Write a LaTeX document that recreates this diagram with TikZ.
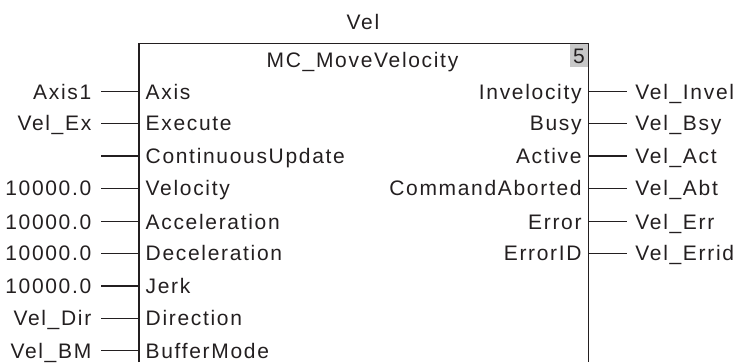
\documentclass[tikz,border=0pt]{standalone}
\usepackage{fontspec}
\setmainfont{Liberation Sans}[LetterSpace=8]
\usepackage{tikz}
\definecolor{fbink}{HTML}{231F20}
\definecolor{fbgray}{HTML}{C8C8C8}

\begin{document}
\begin{tikzpicture}[x=1pt, y=1pt, fbink, line width=1.4pt,
  every node/.style={inner sep=0pt, text height=15pt, text depth=0pt,
    font=\fontsize{21}{24}\selectfont, text=fbink},
  varin/.style={anchor=east, inner xsep=9pt},
  pinin/.style={anchor=west, inner xsep=6pt},
  pinout/.style={anchor=east, inner xsep=6pt},
  varout/.style={anchor=west, inner xsep=8pt}]
\useasboundingbox (0,0) rectangle (738,-362);

% Function block body
\fill[fbgray] (570,-43.3) rectangle (588.3,-67);
\draw (139,-362) -- (139,-43.3) -- (588.3,-43.3) -- (588.3,-362);
\node (inst) at (363,-22) {Vel};
\node (fbname) at (362.5,-60) {MC\_MoveVelocity};
\node (fbno) at (579,-55.5) {5};

% Input pins
\node[pinin] (pAxis) at (139,-91.7) {Axis};
\node[pinin] (pExe) at (139,-123.3) {Execute};
\node[pinin] (pCont) at (139,-156) {ContinuousUpdate};
\node[pinin] (pVel) at (139,-188.3) {Velocity};
\node[pinin] (pAcc) at (139,-221.7) {Acceleration};
\node[pinin] (pDec) at (139,-253.3) {Deceleration};
\node[pinin] (pJerk) at (139,-286) {Jerk};
\node[pinin] (pDir) at (139,-318.3) {Direction};
\node[pinin] (pBuf) at (139,-350.7) {BufferMode};

% Output pins
\node[pinout] (pInv) at (588.3,-91.7) {Invelocity};
\node[pinout] (pBsy) at (588.3,-123.3) {Busy};
\node[pinout] (pAct) at (588.3,-156) {Active};
\node[pinout] (pAbt) at (588.3,-188.3) {CommandAborted};
\node[pinout] (pErr) at (588.3,-221.7) {Error};
\node[pinout] (pErrid) at (588.3,-253.3) {ErrorID};

% Input variables
\node[varin] (vAxis) at (101,-91.7) {Axis1};
\node[varin] (vExe) at (101,-123.3) {Vel\_Ex};
\coordinate (vCont) at (101,-156);
\node[varin] (vVel) at (101,-188.3) {10000.0};
\node[varin] (vAcc) at (101,-221.7) {10000.0};
\node[varin] (vDec) at (101,-253.3) {10000.0};
\node[varin] (vJerk) at (101,-286) {10000.0};
\node[varin] (vDir) at (101,-318.3) {Vel\_Dir};
\node[varin] (vBuf) at (101,-350.7) {Vel\_BM};

% Output variables
\node[varout] (vInv) at (626.7,-91.7) {Vel\_Invel};
\node[varout] (vBsy) at (626.7,-123.3) {Vel\_Bsy};
\node[varout] (vAct) at (626.7,-156) {Vel\_Act};
\node[varout] (vAbt) at (626.7,-188.3) {Vel\_Abt};
\node[varout] (vErr) at (626.7,-221.7) {Vel\_Err};
\node[varout] (vErrid) at (626.7,-253.3) {Vel\_Errid};

% Wires
\draw (vAxis.east) -- (pAxis.west);
\draw (vExe.east) -- (pExe.west);
\draw (vCont) -- (pCont.west);
\draw (vVel.east) -- (pVel.west);
\draw (vAcc.east) -- (pAcc.west);
\draw (vDec.east) -- (pDec.west);
\draw (vJerk.east) -- (pJerk.west);
\draw (vDir.east) -- (pDir.west);
\draw (vBuf.east) -- (pBuf.west);
\draw (pInv.east) -- (vInv.west);
\draw (pBsy.east) -- (vBsy.west);
\draw (pAct.east) -- (vAct.west);
\draw (pAbt.east) -- (vAbt.west);
\draw (pErr.east) -- (vErr.west);
\draw (pErrid.east) -- (vErrid.west);
\end{tikzpicture}
\end{document}
